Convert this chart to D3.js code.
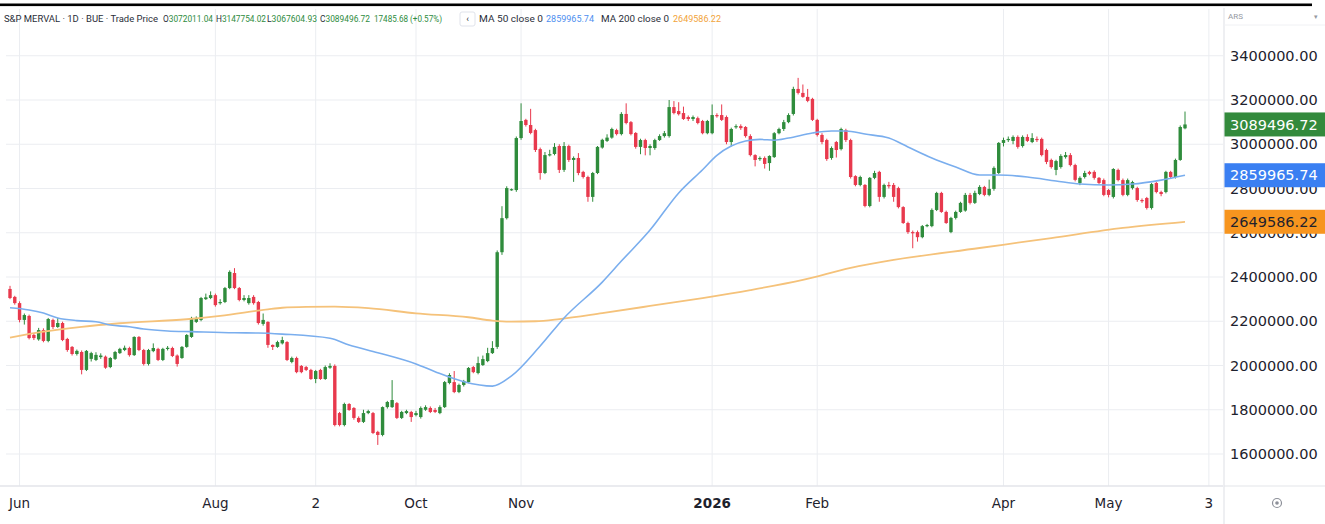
<!DOCTYPE html>
<html><head><meta charset="utf-8">
<script src="https://cdn.jsdelivr.net/npm/d3@7"></script>
<style>html,body{margin:0;padding:0;background:#fff;}svg{display:block;}</style>
</head><body>
<svg id="chart" width="1325" height="524"></svg>
<script>
// ---- DATA (daily candles, thousands of ARS: open, high, low, close) ----
const ohlc = [
[2346,2360,2300,2305],[2310,2315,2275,2282],[2282,2290,2195,2206],[2206,2235,2185,2228],[2224,2230,2118,2124],
[2138,2145,2115,2124],[2118,2170,2112,2160],[2160,2168,2105,2111],[2111,2215,2105,2210],[2206,2212,2165,2174],
[2174,2215,2170,2192],[2192,2198,2110,2115],[2120,2125,2062,2070],[2084,2088,2045,2052],[2052,2072,2045,2066],
[2061,2068,1960,1980],[1980,2070,1975,2066],[2030,2062,2018,2056],[2025,2060,2020,2048],[2038,2055,2030,2045],
[2040,2045,1985,1990],[1993,2038,1988,2034],[2030,2066,2025,2061],[2056,2080,2052,2075],[2070,2090,2065,2080],
[2079,2085,2040,2047],[2047,2132,2043,2129],[2129,2133,2065,2070],[2070,2075,2000,2007],[2007,2075,2000,2070],
[2065,2100,2060,2079],[2075,2080,2020,2025],[2025,2080,2020,2075],[2075,2088,2068,2080],[2079,2085,2038,2043],
[2045,2050,1995,2007],[2034,2088,2030,2084],[2084,2142,2080,2138],[2129,2220,2125,2215],[2197,2222,2192,2215],
[2206,2310,2200,2305],[2300,2325,2296,2308],[2305,2335,2300,2318],[2318,2325,2266,2273],[2282,2300,2275,2287],
[2287,2355,2282,2350],[2350,2430,2345,2423],[2418,2440,2345,2350],[2350,2355,2290,2296],[2296,2318,2290,2305],
[2282,2318,2275,2305],[2310,2318,2275,2282],[2287,2292,2185,2192],[2188,2235,2180,2206],[2197,2200,2080,2093],
[2093,2095,2070,2084],[2084,2112,2080,2106],[2100,2130,2095,2115],[2106,2110,2020,2025],[2016,2040,2010,2034],
[2034,2040,1965,1970],[1998,2002,1965,1970],[1993,1998,1975,1980],[1980,1985,1935,1939],[1939,1980,1920,1975],
[1980,1985,1935,1939],[1939,2000,1935,1993],[1990,2010,1985,1998],[1998,2005,1725,1731],[1785,1790,1725,1731],
[1731,1832,1725,1826],[1826,1830,1795,1799],[1808,1812,1755,1763],[1763,1770,1740,1745],[1745,1800,1740,1785],
[1785,1800,1780,1794],[1785,1790,1690,1695],[1700,1705,1641,1686],[1686,1815,1680,1812],[1812,1840,1805,1835],
[1812,1934,1808,1844],[1830,1835,1758,1763],[1763,1795,1758,1790],[1785,1800,1780,1794],[1790,1795,1745,1767],
[1776,1795,1770,1785],[1767,1815,1760,1808],[1800,1820,1795,1812],[1808,1815,1785,1790],[1799,1808,1785,1790],
[1785,1820,1780,1812],[1812,1930,1808,1925],[1921,1965,1915,1957],[1925,1975,1875,1880],[1880,1918,1875,1912],
[1912,1935,1905,1930],[1925,1993,1920,1989],[1993,1998,1965,1970],[1966,2040,1960,2011],[2002,2045,1998,2029],
[2020,2080,2015,2056],[2056,2110,2052,2079],[2084,2520,2075,2512],[2512,2720,2500,2666],[2666,2810,2660,2802],
[2797,2800,2790,2797],[2793,3035,2785,3028],[3028,3185,3020,3105],[3110,3115,3080,3087],[3087,3160,3045,3051],
[3064,3070,2965,2974],[2978,2985,2840,2870],[2870,2965,2865,2951],[2950,2975,2945,2955],[2956,3005,2950,2988],
[2992,3000,2870,2884],[2884,3010,2875,2992],[2992,2998,2920,2929],[2929,2945,2830,2938],[2938,2960,2860,2870],
[2875,2880,2845,2852],[2852,2858,2740,2762],[2762,2875,2740,2870],[2870,2992,2865,2988],[2985,3025,2980,3020],
[3015,3045,3010,3030],[3030,3075,3025,3069],[3064,3070,3040,3046],[3046,3145,3040,3137],[3137,3185,3090,3096],
[3100,3105,3040,3046],[3051,3055,2980,2988],[2988,3025,2955,3019],[3019,3025,2950,2983],[2983,3000,2950,2992],
[2983,3025,2975,3019],[3019,3045,3015,3037],[3037,3060,3030,3050],[3037,3200,3030,3168],[3168,3195,3135,3141],
[3150,3190,3130,3136],[3141,3170,3110,3114],[3123,3130,3105,3114],[3114,3130,3105,3123],[3118,3125,3090,3096],
[3105,3110,3045,3050],[3050,3110,3045,3105],[3050,3180,3045,3132],[3132,3140,3120,3128],[3132,3180,3105,3110],
[3123,3130,3000,3010],[3010,3075,2990,3069],[3078,3090,3070,3082],[3082,3090,3065,3073],[3078,3082,3030,3037],
[3037,3045,2945,2951],[2951,2955,2900,2929],[2933,2945,2925,2938],[2938,2945,2890,2911],[2915,2950,2880,2947],
[2942,3055,2938,3050],[3050,3075,3045,3069],[3069,3110,3060,3100],[3100,3140,3095,3132],[3137,3260,3130,3250],
[3250,3300,3225,3232],[3232,3270,3210,3214],[3214,3250,3190,3196],[3205,3210,3105,3110],[3110,3115,3035,3042],
[3042,3050,3000,3010],[3019,3025,2925,2933],[2938,2990,2930,2983],[3010,3015,2940,2974],[2978,3075,2972,3069],
[3064,3070,3010,3019],[3019,3025,2845,2852],[2856,2860,2810,2816],[2816,2858,2810,2852],[2816,2820,2715,2721],
[2721,2852,2715,2848],[2848,2880,2842,2870],[2875,2880,2740,2762],[2762,2822,2755,2816],[2816,2830,2800,2810],
[2816,2825,2740,2762],[2802,2808,2710,2716],[2716,2720,2640,2644],[2644,2650,2595,2603],[2603,2610,2530,2598],
[2603,2610,2560,2580],[2580,2635,2575,2630],[2630,2640,2625,2635],[2630,2710,2625,2703],[2703,2785,2698,2780],
[2780,2785,2690,2694],[2694,2700,2640,2644],[2603,2672,2598,2667],[2667,2700,2660,2694],[2694,2740,2690,2735],
[2700,2780,2695,2771],[2771,2780,2728,2735],[2735,2790,2730,2780],[2775,2815,2770,2807],[2807,2812,2765,2771],
[2771,2840,2765,2798],[2798,2900,2790,2893],[2870,3010,2865,3006],[3006,3030,2990,3019],[3019,3035,3010,3024],
[3015,3040,3000,3033],[3033,3040,2980,2988],[2992,3040,2985,3033],[3033,3045,3010,3015],[3010,3050,3005,3028],
[3024,3035,3010,3019],[3024,3030,2945,2951],[2974,2980,2910,2920],[2929,2935,2890,2897],[2884,2930,2860,2924],
[2897,2955,2890,2947],[2942,2965,2935,2951],[2951,2960,2900,2906],[2906,2912,2832,2839],[2825,2855,2815,2848],
[2852,2880,2845,2870],[2875,2880,2860,2866],[2875,2882,2840,2848],[2848,2852,2820,2825],[2838,2845,2765,2771],
[2793,2798,2760,2771],[2762,2892,2755,2888],[2884,2890,2832,2838],[2838,2845,2765,2771],[2771,2845,2765,2838],
[2802,2835,2795,2829],[2802,2808,2740,2748],[2748,2755,2735,2744],[2757,2762,2705,2712],[2712,2825,2705,2820],
[2825,2830,2778,2784],[2784,2790,2765,2775],[2784,2880,2778,2875],[2875,2880,2845,2852],[2852,2935,2845,2929],
[2929,3085,2925,3078]
];
// last bar, full precision (from legend)
const lastBar = [3072011.04, 3147754.02, 3067604.93, 3089496.72];
const change = [17485.68, 0.57];

// Moving averages (candle index, value in thousands)
const ma50Idx = [0,4,7,10,14,18,21,25,28,33,38,47,52,57,67,71,77,85,89,95,101,105,111,116,124,128,134,140,145,148,151,154,157,160,163,168,172,175,179,184,188,193,198,203,207,213,219,224,230,235,241,246];
const ma50Val = [2261,2251,2237,2215,2203,2198,2183,2175,2165,2156,2153,2148,2147,2142,2123,2093,2058,2007,1972,1927,1907,1953,2088,2215,2377,2472,2612,2780,2885,2950,2992,3015,3022,3018,3028,3051,3060,3060,3046,3028,2988,2938,2897,2861,2861,2852,2834,2820,2816,2820,2838,2859.96574];
const ma200Idx = [0,7,15,23,37,44,54,57,62,68,75,85,96,101,105,110,115,124,134,145,155,166,176,185,203,218,233,246];
const ma200Val = [2126,2153,2175,2191,2209,2224,2254,2261,2265,2266,2259,2236,2218,2203,2198,2200,2210,2237,2269,2305,2341,2387,2441,2477,2531,2576,2622,2649.58622];
const maLast = [2859965.74, 2649586.22];

// Axis ticks
const xTickIdx = [2,43,64,85,107,147,169,208,230,251];
const xTickLabels = ["Jun","Aug","2","Oct","Nov","2026","Feb","Apr","May","3"];
const yTicks = [1600000,1800000,2000000,2200000,2400000,2600000,2800000,3000000,3200000,3400000];

// ---- BUILD ----
const K = 1000;
const bars = ohlc.map(d => d.map(v => v*K));
bars.push(lastBar);
const n = bars.length;

const svg = d3.select("#chart");
const W = 1325, H = 524;
const plotRight = 1223, axisBottom = 486;

const x = d3.scaleLinear().domain([0, n-1]).range([10, 1185]);
const y = d3.scaleLinear().domain([1600000, 3400000]).range([454, 55.75]);

const green = "#2f8c3c", red = "#e8394d";
const gridC = "#ebedf1";

// top remnant rule
svg.append("rect").attr("x",0).attr("y",3.5).attr("width",1312).attr("height",2.6).attr("fill","#000");

// grid
svg.append("g").selectAll("line").data(xTickIdx).join("line")
  .attr("x1", d=>x(d)).attr("x2", d=>x(d)).attr("y1", 9).attr("y2", axisBottom)
  .attr("stroke", gridC).attr("stroke-width",1);
svg.append("g").selectAll("line").data(yTicks).join("line")
  .attr("x1", 6).attr("x2", plotRight).attr("y1", d=>y(d)).attr("y2", d=>y(d))
  .attr("stroke", gridC).attr("stroke-width",1.2);

// bottom axis line & right separator
svg.append("line").attr("x1",0).attr("x2",plotRight).attr("y1",axisBottom).attr("y2",axisBottom).attr("stroke","#e3e5ea").attr("stroke-width",1.6);
svg.append("line").attr("x1",plotRight+1).attr("x2",plotRight+1).attr("y1",8).attr("y2",H).attr("stroke","#e3e5ea").attr("stroke-width",1.2);
svg.append("line").attr("x1",plotRight+1).attr("x2",W).attr("y1",axisBottom).attr("y2",axisBottom).attr("stroke","#e3e5ea").attr("stroke-width",1.2);
svg.append("line").attr("x1",plotRight+1).attr("x2",W).attr("y1",25).attr("y2",25).attr("stroke","#f0f1f4").attr("stroke-width",1);

// candles
const bw = 3.4;
const cg = svg.append("g");
cg.selectAll("line").data(bars).join("line")
  .attr("x1",(d,i)=>x(i)).attr("x2",(d,i)=>x(i))
  .attr("y1",d=>y(d[1])).attr("y2",d=>y(d[2]))
  .attr("stroke",d=>d[3]>=d[0]?green:red).attr("stroke-width",1);
cg.selectAll("rect").data(bars).join("rect")
  .attr("x",(d,i)=>x(i)-bw/2).attr("width",bw)
  .attr("y",d=>y(Math.max(d[0],d[3])))
  .attr("height",d=>Math.max(1.2, Math.abs(y(d[0])-y(d[3]))))
  .attr("fill",d=>d[3]>=d[0]?green:red);

// moving averages
const line = d3.line().x(d=>x(d[0])).y(d=>y(d[1]*K)).curve(d3.curveMonotoneX);
svg.append("path").datum(d3.zip(ma200Idx, ma200Val)).attr("d",line)
  .attr("fill","none").attr("stroke","#f5c27a").attr("stroke-width",1.8);
svg.append("path").datum(d3.zip(ma50Idx, ma50Val)).attr("d",line)
  .attr("fill","none").attr("stroke","#7aaeee").attr("stroke-width",1.6);

// x axis labels
svg.append("g").selectAll("text").data(xTickIdx).join("text")
  .attr("x", d=>x(d)).attr("y", 508).attr("text-anchor","middle")
  .attr("font-family","DejaVu Sans").attr("font-size",13.5)
  .attr("font-weight",(d,i)=>xTickLabels[i]==="2026"?"bold":"normal")
  .attr("fill","#1e222d").text((d,i)=>xTickLabels[i]);

// y axis
const fmt = d3.format(".2f");
const yAxis = d3.axisRight(y).tickValues(yTicks).tickFormat(fmt).tickSize(0).tickPadding(0);
const ya = svg.append("g").attr("transform",`translate(1230,0)`).call(yAxis);
ya.select(".domain").remove();
ya.selectAll("text").attr("font-family","DejaVu Sans").attr("font-size",14.5).attr("fill","#1e222d").attr("text-anchor","start");

// price boxes (cover the grid labels beneath them, as in the source)
const boxes = [
  {v: maLast[1], bg:"#f7951f", fg:"#1e222d"},
  {v: maLast[0], bg:"#3a7ff2", fg:"#ffffff"},
  {v: lastBar[3], bg:"#338a3c", fg:"#ffffff"}
];
const bg = svg.append("g");
boxes.forEach(b=>{
  const cy = y(b.v);
  bg.append("rect").attr("x",plotRight+1.5).attr("y",cy-12).attr("width",W-plotRight).attr("height",24).attr("fill",b.bg);
  bg.append("text").attr("x",1230).attr("y",cy).attr("dy","0.36em")
    .attr("font-family","DejaVu Sans").attr("font-size",14.5).attr("fill",b.fg).text(fmt(b.v));
});

// ARS label
svg.append("text").attr("x",1228).attr("y",19).attr("font-family","Roboto").attr("font-size",8).attr("fill","#9598a1").text("ARS");
svg.append("text").attr("x",1314).attr("y",19).attr("font-family","DejaVu Sans").attr("font-size",7).attr("fill","#9598a1").text("▾");

// settings icon
svg.append("circle").attr("cx",1277).attr("cy",503).attr("r",4.5).attr("fill","none").attr("stroke","#8d9099").attr("stroke-width",1.2);
svg.append("circle").attr("cx",1277).attr("cy",503).attr("r",1.8).attr("fill","#8d9099");

// legend header
const hf = "Roboto", hs = 8.6, dark = "#2a2e39", gv = "#2e8b3e";
const leg = svg.append("g").attr("font-family",hf).attr("font-size",hs);
leg.append("text").attr("x",4).attr("y",22).attr("fill",dark).attr("textLength",154).attr("lengthAdjust","spacingAndGlyphs")
  .text("S&P MERVAL · 1D · BUE · Trade Price");
const ohlcLab = ["O","H","L","C"], ohlcX = [163,216,267,320];
lastBar.forEach((v,i)=>{
  const t = leg.append("text").attr("x",ohlcX[i]).attr("y",22).attr("textLength",50).attr("lengthAdjust","spacingAndGlyphs");
  t.append("tspan").attr("fill",dark).text(ohlcLab[i]);
  t.append("tspan").attr("fill",gv).text(fmt(v));
});
leg.append("text").attr("x",374).attr("y",22).attr("fill",gv).attr("textLength",68).attr("lengthAdjust","spacingAndGlyphs")
  .text(`${fmt(change[0])} (+${fmt(change[1])}%)`);
leg.append("rect").attr("x",460).attr("y",12).attr("width",15).attr("height",14).attr("rx",2).attr("fill","#fff").attr("stroke","#e0e3eb");
leg.append("text").attr("x",467.5).attr("y",22).attr("text-anchor","middle").attr("fill",dark).attr("font-size",9).text("‹");
leg.append("text").attr("x",479).attr("y",22).attr("fill",dark).attr("textLength",64).attr("lengthAdjust","spacingAndGlyphs").text("MA 50 close 0");
leg.append("text").attr("x",546).attr("y",22).attr("fill","#4d8ff0").attr("textLength",48).attr("lengthAdjust","spacingAndGlyphs").text(fmt(maLast[0]));
leg.append("text").attr("x",601).attr("y",22).attr("fill",dark).attr("textLength",68).attr("lengthAdjust","spacingAndGlyphs").text("MA 200 close 0");
leg.append("text").attr("x",673).attr("y",22).attr("fill","#f2a43a").attr("textLength",48).attr("lengthAdjust","spacingAndGlyphs").text(fmt(maLast[1]));
</script>
</body></html>
